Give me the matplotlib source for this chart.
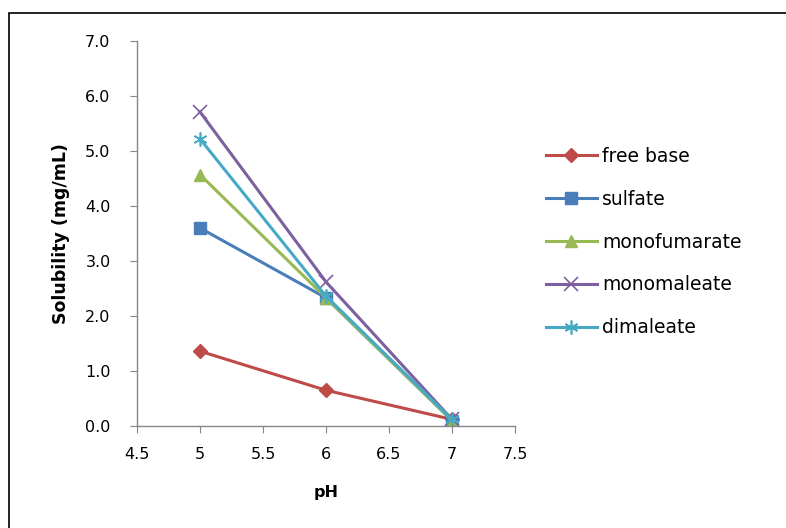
import matplotlib
matplotlib.use("Agg")
import matplotlib.pyplot as plt
from matplotlib.patches import Rectangle
from matplotlib.ticker import FormatStrFormatter

ph = [5, 6, 7]
free_base = [1.36, 0.65, 0.12]
sulfate = [3.60, 2.33, 0.10]
monofumarate = [4.57, 2.33, 0.10]
monomaleate = [5.71, 2.62, 0.12]
dimaleate = [5.22, 2.36, 0.12]
labels = ["free base", "sulfate", "monofumarate", "monomaleate", "dimaleate"]
xticks = [4.5, 5, 5.5, 6, 6.5, 7, 7.5]
xticklabels = ["4.5", "5", "5.5", "6", "6.5", "7", "7.5"]
yticks = [0, 1, 2, 3, 4, 5, 6, 7]

series = [free_base, sulfate, monofumarate, monomaleate, dimaleate]
colors = ["#BE4B48", "#4A7EBB", "#98B954", "#7D60A0", "#46AAC5"]
markers = ["D", "s", "^", "x", "*"]
msizes = [7, 9, 9, 10, 10]

plt.rcParams['font.family'] = ['DejaVu Sans']
fig = plt.figure(figsize=(7.86, 5.28), dpi=100)
W, H = 786, 528
# outer chart border (top and left visible, extends past right/bottom edges)
fig.patches.append(Rectangle((9 / W, -0.1), 1.2, (H - 13) / H + 0.1,
                             transform=fig.transFigure, fill=False,
                             edgecolor="black", linewidth=1.2, zorder=0))

ax = fig.add_axes([137 / W, (H - 426) / H, (515 - 137) / W, (426 - 41) / H])

for ys, c, m, ms, lab in zip(series, colors, markers, msizes, labels):
    kw = dict(markeredgecolor=c, markerfacecolor=c)
    if m in ("x", "*"):
        kw = dict(markeredgecolor=c, markerfacecolor="none", markeredgewidth=1.2)
        if m == "*":
            m = (6, 2, 0)
    ax.plot(ph, ys, color=c, marker=m, markersize=ms, linewidth=2.2, label=lab, **kw)

ax.set_xlim(4.5, 7.5)
ax.set_ylim(0, 7)
ax.set_xticks(xticks)
ax.set_xticklabels(xticklabels)
ax.set_yticks(yticks)
ax.yaxis.set_major_formatter(FormatStrFormatter("%.1f"))
for s in ["top", "right"]:
    ax.spines[s].set_visible(False)
for s in ["left", "bottom"]:
    ax.spines[s].set_color("#868686")
    ax.spines[s].set_linewidth(1.0)
ax.tick_params(axis="both", direction="out", length=5, color="#868686", labelsize=11.5, labelcolor="black")
ax.tick_params(axis="y", pad=14)
ax.tick_params(axis="x", pad=10)
ax.set_xlabel("pH", fontweight="bold", fontsize=11.5, labelpad=17)
ax.set_ylabel("Solubility (mg/mL)", fontweight="bold", fontsize=12.5, labelpad=11)

fig.legend(loc="upper left", bbox_to_anchor=(529 / W, 1 - 130 / H), frameon=False,
           fontsize=13.5, labelspacing=1.27, handlelength=2.7, handletextpad=0.28)

fig.savefig("out.png", dpi=100)
